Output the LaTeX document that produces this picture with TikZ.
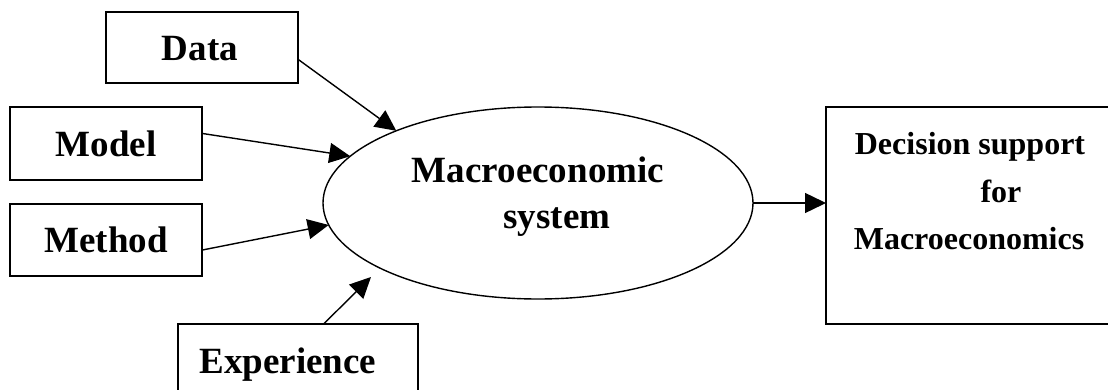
\documentclass[tikz,border=0pt]{standalone}
\usepackage{fontspec}
\setmainfont{Liberation Serif}
\usetikzlibrary{shapes.geometric,arrows.meta}
\begin{document}
\begin{tikzpicture}[x=1pt,y=1pt,
  box/.style={draw,line width=1.4pt,rectangle,inner sep=0pt,outer sep=0pt},
  lbl/.style={anchor=base,inner sep=0pt,font=\bfseries\fontsize{37}{44}\selectfont},
  slbl/.style={anchor=base,inner sep=0pt,font=\bfseries\fontsize{32}{38}\selectfont},
  arr/.style={line width=1.4pt,-{Triangle[length=21pt,width=20pt]}}]
\useasboundingbox (0,0) rectangle (1108,389);
\node[box,minimum width=192pt,minimum height=71pt] (data) at (202,341.5) {};
\node[box,minimum width=192pt,minimum height=73pt] (model) at (106,245.5) {};
\node[box,minimum width=192pt,minimum height=72pt] (method) at (106,149) {};
\node[box,minimum width=240pt,minimum height=76pt] (exp) at (298,27) {};
\node[box,minimum width=289pt,minimum height=217pt] (dec) at (970.5,173.5) {};
\node[draw,line width=1.4pt,ellipse,inner sep=0pt,outer sep=0pt,minimum width=430pt,minimum height=192pt] (ell) at (538,186) {};
\node[lbl] (tdata) at (200,328) {Data};
\node[lbl] (tmodel) at (106,233) {Model};
\node[lbl] (tmethod) at (106,137) {Method};
\node[lbl] (texp) at (288,16) {Experience};
\node[lbl] (tmacro) at (538,207) {Macroeconomic};
\node[lbl] (tsys) at (557,161) {system};
\node[slbl] (td1) at (970,235) {Decision support};
\node[slbl] (td2) at (1001,187) {for};
\node[slbl] (td3) at (969,140) {Macroeconomics};
\coordinate (xtip) at (371,112);
\draw[arr] (data.-7.4) -- (ell.153.3);
\draw[arr] (model.6.8) -- (ell.166);
\draw[arr] (method.-6.5) -- (ell.186.4);
\draw[arr] (exp.56.7) -- (xtip);
\draw[arr] (ell.east) -- (ell.east -| dec.west);
\end{tikzpicture}
\end{document}
